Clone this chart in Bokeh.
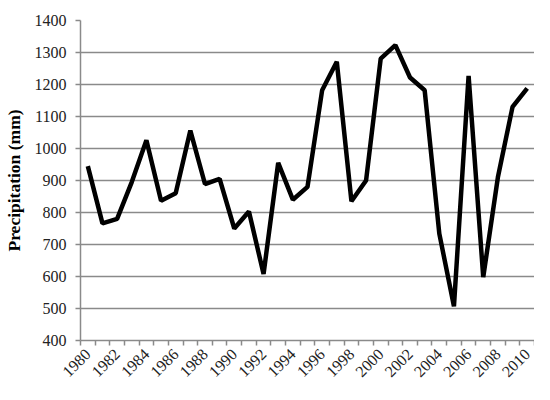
import math
from bokeh.plotting import figure
from bokeh.models import FixedTicker, Range1d
from bokeh.embed import file_html
from bokeh.resources import INLINE

years = list(range(1980, 2011))
precip = [945, 766, 780, 895, 1026, 837, 860, 1056, 889, 905,
          750, 803, 608, 955, 840, 880, 1182, 1271, 835, 900,
          1281, 1323, 1222, 1182, 734, 507, 1227, 598, 910, 1130,
          1188]
x_tick_labels = list(range(1980, 2011, 2))
y_ticks = list(range(400, 1401, 100))

FONT = "Liberation Serif"
GRID = "#8a8a8a"

p = figure(width=534, height=384, output_backend="svg", toolbar_location=None,
           x_range=Range1d(years[0] - 0.5, years[-1] + 0.5),
           y_range=Range1d(400, 1400),
           min_border_left=76, min_border_right=0, min_border_top=20,
           min_border_bottom=41)
p.outline_line_color = None
p.background_fill_color = "white"

p.line(years, precip, line_color="black", line_width=4.5, line_join="bevel")

# x axis
p.xaxis.ticker = FixedTicker(ticks=x_tick_labels,
                             minor_ticks=[y - 0.5 for y in years] + [years[-1] + 0.5])
p.xaxis.major_tick_line_color = None
p.xaxis.minor_tick_line_color = GRID
p.xaxis.minor_tick_line_width = 1.5
p.xaxis.minor_tick_out = 5
p.xaxis.minor_tick_in = 0
p.xaxis.major_tick_out = 0
p.xaxis.major_tick_in = 0
p.xaxis.axis_line_color = GRID
p.xaxis.axis_line_width = 1.5
p.xaxis.major_label_orientation = math.pi / 4
p.xaxis.major_label_text_font = FONT
p.xaxis.major_label_text_font_size = "16px"
p.xaxis.major_label_text_color = "#222222"
p.xaxis.major_label_standoff = 6
p.xgrid.grid_line_color = None

# y axis
p.yaxis.ticker = FixedTicker(ticks=y_ticks)
p.yaxis.minor_tick_line_color = None
p.yaxis.major_tick_line_color = GRID
p.yaxis.major_tick_line_width = 1.5
p.yaxis.major_tick_out = 5
p.yaxis.major_tick_in = 0
p.yaxis.axis_line_color = GRID
p.yaxis.axis_line_width = 1.5
p.yaxis.major_label_text_font = FONT
p.yaxis.major_label_text_font_size = "16px"
p.yaxis.major_label_text_color = "#222222"
p.yaxis.major_label_standoff = 9
p.yaxis.axis_label = "Precipitation (mm)"
p.yaxis.axis_label_text_font = FONT
p.yaxis.axis_label_text_font_style = "bold"
p.yaxis.axis_label_text_font_size = "17.5px"
p.yaxis.axis_label_text_color = "black"
p.yaxis.axis_label_standoff = 8
p.ygrid.grid_line_color = GRID
p.ygrid.grid_line_width = 1.5

open("out.html", "w").write(file_html(p, INLINE))
